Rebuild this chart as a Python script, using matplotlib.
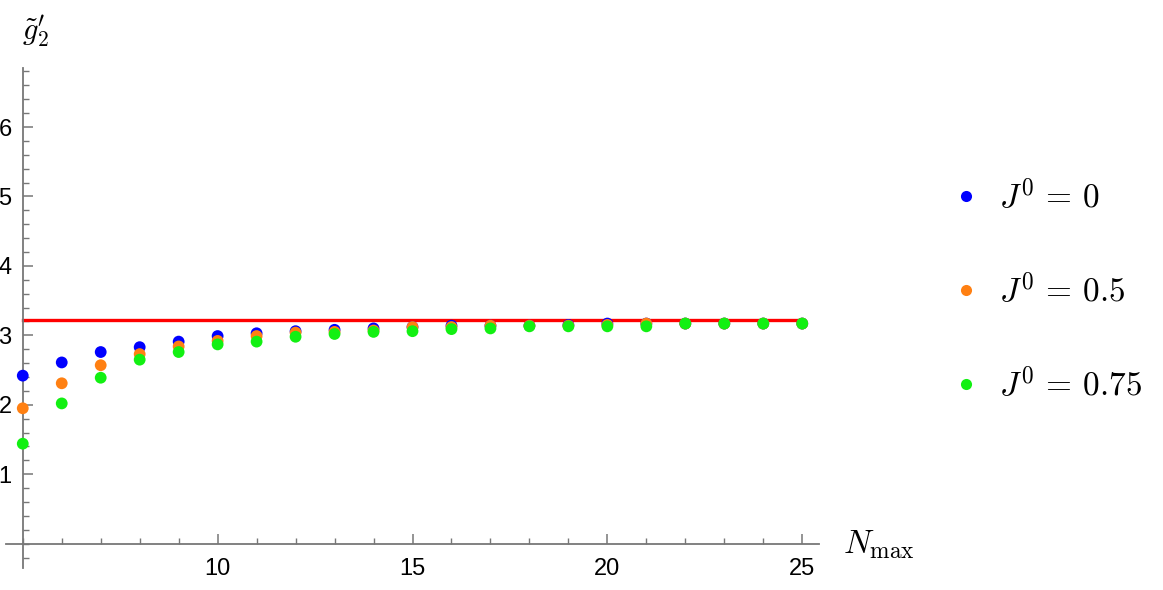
import matplotlib
matplotlib.use("Agg")
import matplotlib.pyplot as plt
from matplotlib.lines import Line2D
from matplotlib.ticker import MultipleLocator

plt.rcParams['mathtext.fontset'] = 'cm'
plt.rcParams['font.family'] = ['Liberation Sans', 'DejaVu Sans']

n_max = list(range(5, 26))
g_J0 = [2.42, 2.61, 2.76, 2.83, 2.91, 2.99, 3.03, 3.06, 3.08, 3.10, 3.12,
        3.14, 3.14, 3.14, 3.15, 3.17, 3.17, 3.17, 3.17, 3.17, 3.17]
g_J05 = [1.95, 2.31, 2.57, 2.73, 2.84, 2.92, 2.99, 3.04, 3.05, 3.07, 3.12,
         3.12, 3.14, 3.14, 3.14, 3.15, 3.17, 3.17, 3.17, 3.17, 3.17]
g_J075 = [1.44, 2.02, 2.39, 2.65, 2.76, 2.87, 2.91, 2.98, 3.02, 3.05, 3.06,
          3.09, 3.10, 3.13, 3.13, 3.13, 3.13, 3.17, 3.17, 3.17, 3.17]
limit_value = 3.22
labels = [r'$J^0\,=\,0$', r'$J^0\,=\,0.5$', r'$J^0\,=\,0.75$']
colors = ['#0000ff', '#ff8012', '#12f012']

W, H = 1163, 590
fig = plt.figure(figsize=(W / 100, H / 100), dpi=100)
x0, x1 = 4.57, 25.43
y0, y1 = -0.35, 6.85
px_l, px_r = 6, 819
py_t, py_b = 68, 568
ax = fig.add_axes([px_l / W, 1 - py_b / H, (px_r - px_l) / W, (py_b - py_t) / H])
ax.set_xlim(x0, x1)
ax.set_ylim(y0, y1)

ax.plot([n_max[0], n_max[-1]], [limit_value, limit_value], color='#ff0000', lw=2.4, zorder=2)
for ys, c in zip([g_J0, g_J05, g_J075], colors):
    ax.scatter(n_max, ys, s=72, color=c, edgecolors='none', zorder=3)

for s in ['top', 'right']:
    ax.spines[s].set_visible(False)
ax.spines['left'].set_position(('data', 5))
ax.spines['bottom'].set_position(('data', 0))
for s in ['left', 'bottom']:
    ax.spines[s].set_color('#777777')
    ax.spines[s].set_linewidth(1.3)

ax.xaxis.set_minor_locator(MultipleLocator(1))
ax.yaxis.set_minor_locator(MultipleLocator(0.2))
ax.set_xticks([10, 15, 20, 25])
ax.set_yticks([1, 2, 3, 4, 5, 6])
ax.tick_params(axis='both', which='major', direction='in', length=7, width=1.1,
               color='#777777', labelsize=17)
ax.tick_params(axis='both', which='minor', direction='in', length=4.5, width=1.0,
               color='#777777')
ax.tick_params(axis='x', which='major', pad=10)
ax.tick_params(axis='y', which='major', pad=8)

fig.text(36 / W, 1 - 32 / H, r"$\tilde{g}_2'$", fontsize=22, ha='center', va='center')
fig.text(843 / W, 1 - 545 / H, r"$N_{\max}$", fontsize=24, ha='left', va='center')

handles = [Line2D([], [], ls='none', marker='o', markersize=8, color=c, markeredgewidth=0)
           for c in colors]
fig.legend(handles, labels, loc='center left', bbox_to_anchor=(936 / W, 1 - 291 / H),
           frameon=False, fontsize=24, labelspacing=1.75, handletextpad=0.5,
           handlelength=1.0, borderaxespad=0)

fig.savefig('out.png', dpi=100)
